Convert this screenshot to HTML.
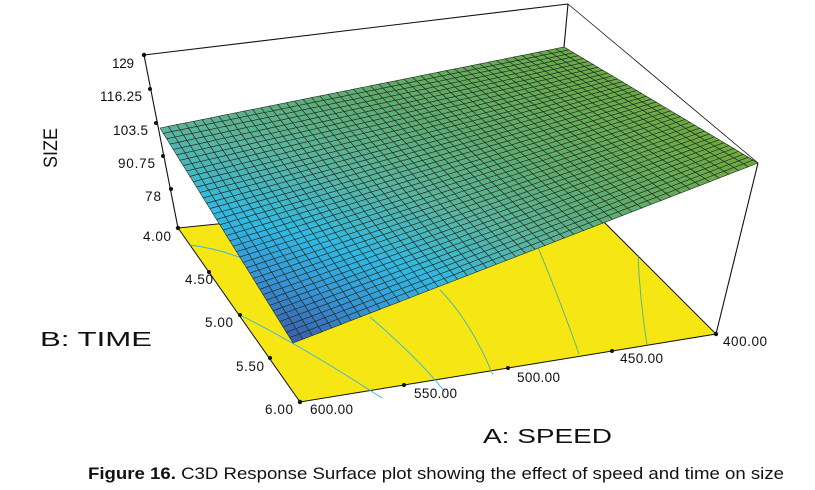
<!DOCTYPE html>
<html><head><meta charset="utf-8"><style>
body{margin:0;background:#fff;width:815px;height:490px;overflow:hidden}
svg{display:block}
text{font-family:"Liberation Sans",Arial,sans-serif;fill:#111}
</style></head><body>
<svg id="s" width="815" height="490" viewBox="0 0 815 490" xmlns="http://www.w3.org/2000/svg">
<polygon points="178,228 300,402 716,334 570,188" fill="#f5e614" stroke="#111" stroke-width="1"/>
<g fill="none" stroke-width="0.9">
<path d="M190,245 Q230,250 268,270" stroke="#37b5e8"/>
<path d="M240,315 Q300,345 382,398" stroke="#37b5e8"/>
<path d="M370,317 Q420,360 445,392" stroke="#37b5e8"/>
<path d="M440,290 Q470,320 493,375" stroke="#4fb6a6"/>
<path d="M537,245 Q560,300 579,354" stroke="#4fb48a"/>
<path d="M638,256 Q640,300 647,345" stroke="#4fb48a"/>
</g>
<g id="mesh"></g>
<g stroke="#111" stroke-width="1.1" fill="none">
<line x1="144" y1="55" x2="568" y2="4"/>
<line x1="568" y1="4" x2="758" y2="163" stroke-width="0.8"/>
<line x1="568" y1="4" x2="564" y2="47"/>
<line x1="144" y1="55" x2="178" y2="228"/>
<line x1="758" y1="163" x2="716" y2="334"/>
</g>
<g fill="#111">
<circle cx="144" cy="55" r="2.2"/><circle cx="150" cy="89" r="2"/><circle cx="156" cy="123" r="2"/><circle cx="163" cy="156" r="2"/><circle cx="171" cy="189" r="2"/><circle cx="178" cy="228" r="2.2"/>
<circle cx="209" cy="272" r="2"/><circle cx="240" cy="315" r="2"/><circle cx="270" cy="358" r="2"/><circle cx="300" cy="402" r="2.2"/>
<circle cx="404" cy="385" r="2"/><circle cx="508" cy="368" r="2"/><circle cx="612" cy="351" r="2"/><circle cx="716" cy="334" r="2.2"/>
</g>
<g font-size="13.5" lengthAdjust="spacingAndGlyphs">
<text x="112" y="68" textLength="22">129</text>
<text x="100" y="101" textLength="42">116.25</text>
<text x="113" y="135" textLength="35">103.5</text>
<text x="118" y="168" textLength="37">90.75</text>
<text x="145" y="201" textLength="16">78</text>
<text x="143" y="241" textLength="28">4.00</text>
<text x="185" y="284" textLength="28">4.50</text>
<text x="205" y="327" textLength="28">5.00</text>
<text x="236" y="371" textLength="28">5.50</text>
<text x="265" y="414" textLength="28">6.00</text>
<text x="310" y="414" textLength="43">600.00</text>
<text x="414" y="398" textLength="43">550.00</text>
<text x="517" y="382" textLength="43">500.00</text>
<text x="620" y="363" textLength="43">450.00</text>
<text x="723" y="346" textLength="44">400.00</text>
</g>
<text transform="translate(57,148) rotate(-90)" font-size="19" text-anchor="middle" textLength="40" lengthAdjust="spacingAndGlyphs">SIZE</text>
<text x="40" y="346" font-size="20" textLength="112" lengthAdjust="spacingAndGlyphs">B: TIME</text>
<text x="483" y="443" font-size="20" textLength="129" lengthAdjust="spacingAndGlyphs">A: SPEED</text>
<text x="88" y="479" font-size="17" textLength="696" lengthAdjust="spacingAndGlyphs"><tspan font-weight="bold">Figure 16.</tspan> C3D Response Surface plot showing the effect of speed and time on size</text>
</svg>
<script>
(function(){
var A=[160,128],B=[293,343],C=[758,163],D=[564,47];
var zA=103.5,zB=74,zC=129,zD=125;
function P(u,v){
 var x=(1-u)*(1-v)*A[0]+u*(1-v)*D[0]+u*v*C[0]+(1-u)*v*B[0];
 var y=(1-u)*(1-v)*A[1]+u*(1-v)*D[1]+u*v*C[1]+(1-u)*v*B[1];
 return [x,y];}
function Z(u,v){return (1-u)*(1-v)*zA+u*(1-v)*zD+u*v*zC+(1-u)*v*zB;}
var stops=[[74,[58,92,170]],[84,[55,150,215]],[92,[48,185,228]],[103,[90,180,160]],[114,[95,172,110]],[129,[110,170,60]]];
function col(z){
 if(z<=stops[0][0])return stops[0][1];
 for(var i=1;i<stops.length;i++){if(z<=stops[i][0]){var a=stops[i-1],b=stops[i],t=(z-a[0])/(b[0]-a[0]);
 return [0,1,2].map(function(k){return Math.round(a[1][k]+(b[1][k]-a[1][k])*t)});}}
 return stops[stops.length-1][1];}
var N=48,M=40,h='';
for(var i=0;i<N;i++)for(var j=0;j<M;j++){
 var u0=i/N,u1=(i+1)/N,v0=j/M,v1=(j+1)/M;
 var p=[P(u0,v0),P(u1,v0),P(u1,v1),P(u0,v1)];
 var c=col(Z((u0+u1)/2,(v0+v1)/2));
 h+='<polygon points="'+p.map(function(q){return q[0].toFixed(1)+','+q[1].toFixed(1)}).join(' ')+'" fill="rgb('+c.join(',')+')" stroke="#1e2a1e" stroke-width="0.6"/>';
}
document.getElementById('mesh').innerHTML=h;
})();
</script>
</body></html>
